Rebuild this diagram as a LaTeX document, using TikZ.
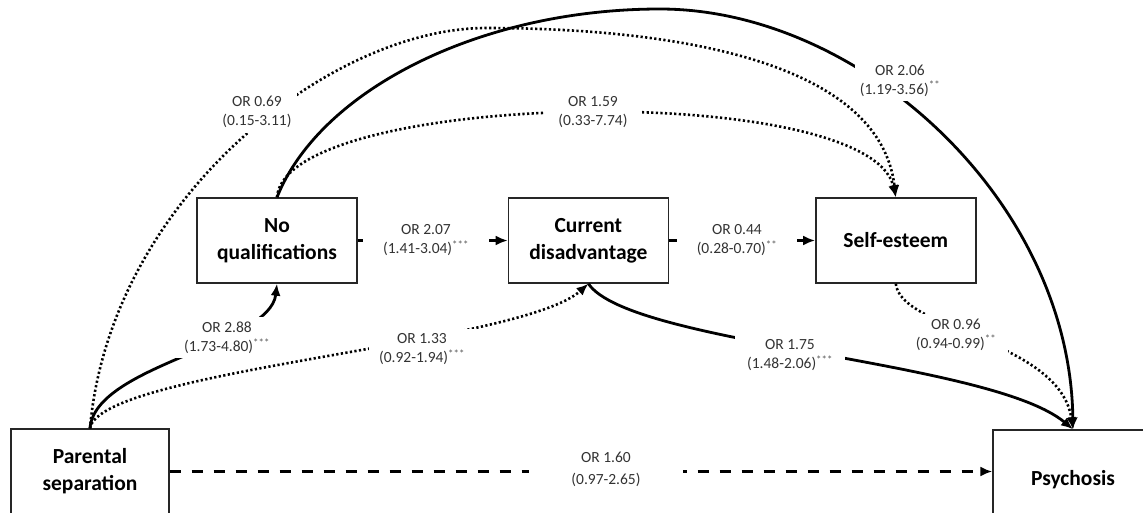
\documentclass[tikz,border=0pt]{standalone}
\usepackage{fontspec}
\setmainfont{Carlito}
\usetikzlibrary{arrows.meta,positioning}
\tikzset{
  var box/.style={
    draw=black!85,
    line width=1.4pt,
    minimum width=160pt,
    minimum height=85pt,
    align=center,
    font=\fontsize{21.5}{27}\selectfont\bfseries,
  },
  or label/.style={
    fill=white,
    inner sep=5pt,
    align=center,
    text=black!80,
    font=\fontsize{15.5}{19}\selectfont,
  },
  solid link/.style={line width=2.8pt, -{Latex[length=12pt,width=10pt]}},
  dotted link/.style={line width=2.6pt, dash pattern=on 2.2pt off 2.4pt, -{Latex[length=12pt,width=10pt]}},
  dashed link/.style={line width=3pt, dash pattern=on 11pt off 11pt, -{Latex[length=12pt,width=10pt]}},
}
\newcommand{\stars}[1]{\textsuperscript{\textcolor{black!65}{#1}}}

\begin{document}
\begin{tikzpicture}[x=1pt, y=1pt]
  \useasboundingbox (0,0) rectangle (1143,-512);

  \node [var box] (nq) at (277,-240.5) {No\\qualifications};
  \node [var box, right=150pt of nq] (cd) {Current\\disadvantage};
  \node [var box, right=146pt of cd] (se) {Self-esteem};
  \node [var box, minimum width=158pt] (ps) at (90,-471.5) {Parental\\separation};
  \node [var box, minimum height=100pt] (psy) at (1073,-480) {Psychosis};

  % no qualifications -> psychosis
  \draw [solid link] (nq.north) .. controls (320,-90) and (480,-9) .. (660,-9)
    .. controls (860,-9) and (1070,-200) .. (psy.north);
  \node [or label] (l206) at (900,-80.5) {OR 2.06\\(1.19-3.56)\stars{**}};

  % parental separation -> self-esteem
  \draw [dotted link] (ps.north) .. controls (110,-200) and (330,-28) .. (486,-28)
    .. controls (620,-28) and (878,-45) .. (se.north);
  \node [or label] (l069) at (257,-112) {OR 0.69\\(0.15-3.11)};

  % parental separation -> no qualifications
  \draw [solid link] (ps.north) .. controls (95,-365) and (270,-345) .. (nq.south);
  \node [or label, inner xsep=10pt] (l288) at (227,-337.5) {OR 2.88\\(1.73-4.80)\stars{***}};

  % parental separation -> current disadvantage
  \draw [dotted link] (ps.north) .. controls (100,-370) and (520,-345) .. (cd.south);
  \node [or label, inner xsep=10pt] (l133) at (422,-349.5) {OR 1.33\\(0.92-1.94)\stars{***}};

  % no qualifications -> self-esteem
  \draw [dotted link] (nq.north) .. controls (285,-90) and (870,-80) .. (se.north);
  \node [or label, inner xsep=14pt] (l159) at (593,-112) {OR 1.59\\(0.33-7.74)};

  % middle row
  \draw [solid link] (nq.east) -- (cd.west);
  \node [or label, inner xsep=20pt] (l207) at (426,-240) {OR 2.07\\(1.41-3.04)\stars{***}};
  \draw [solid link] (cd.east) -- (se.west);
  \node [or label, inner xsep=20pt] (l044) at (737,-240) {OR 0.44\\(0.28-0.70)\stars{**}};

  % into psychosis
  \draw [solid link] (cd.south) .. controls (630,-345) and (990,-360) .. (psy.north);
  \node [or label, inner xsep=12pt] (l175) at (790,-355) {OR 1.75\\(1.48-2.06)\stars{***}};
  \draw [dotted link] (se.south) .. controls (900,-330) and (1060,-340) .. (psy.north);
  \node [or label, inner xsep=12pt] (l096) at (956,-334.5) {OR 0.96\\(0.94-0.99)\stars{**}};

  \draw [dashed link] (ps.east) -- (ps.east -| psy.west);
  \node [or label, inner xsep=42pt] (l160) at (606,-469) {OR 1.60\\[3pt](0.97-2.65)};
\end{tikzpicture}
\end{document}
